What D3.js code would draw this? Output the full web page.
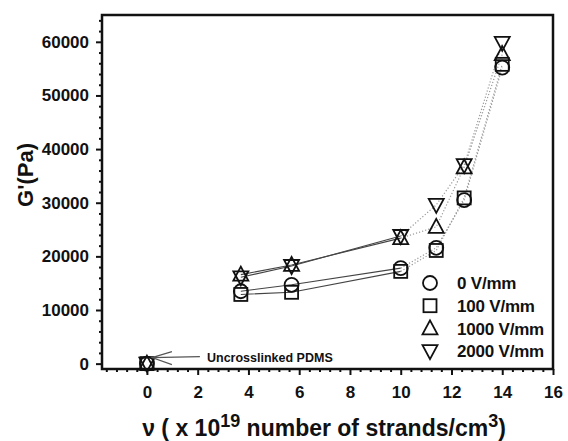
<!DOCTYPE html>
<html><head><meta charset="utf-8">
<script src="https://cdn.jsdelivr.net/npm/d3@7"></script>
<style>body{margin:0;background:#fff}svg text{font-family:"Liberation Sans",Arial,sans-serif;font-weight:bold;fill:#111}</style>
</head><body><svg id="c" width="568" height="441"></svg>
<script>
const xValues = [0, 3.7, 5.7, 10.0, 11.4, 12.5, 14.0];
const series0 = [0, 13500, 14700, 17800, 21600, 30500, 55200];
const series100 = [0, 12900, 13300, 17200, 21100, 30900, 55800];
const series1000 = [0, 16600, 18400, 23400, 25500, 36600, 57700];
const series2000 = [0, 16100, 18200, 23800, 29600, 37000, 59800];
const seriesNames = ["0 V/mm", "100 V/mm", "1000 V/mm", "2000 V/mm"];
const seriesShapes = ["circle", "square", "up", "down"];
const xTicks = [0, 2, 4, 6, 8, 10, 12, 14, 16];
const yTicks = [0, 10000, 20000, 30000, 40000, 50000, 60000];
const annotation = "Uncrosslinked PDMS";

const allSeries = [series0, series100, series1000, series2000];
const svg = d3.select("#c");
const L = 102, R = 553, T = 15, B = 369;
const x = d3.scaleLinear().domain([-1.77, 16]).range([L, R]);
const y = d3.scaleLinear().domain([-1000, 65000]).range([B, T]);

// minor ticks
const xMinor = d3.range(-1.6, 16.01, 0.4).filter(v => Math.abs(v / 2 - Math.round(v / 2)) > 0.01);
const yMinor = d3.range(0, 64001, 2000).filter(v => v % 10000 !== 0);
const gx = svg.append("g").attr("transform", `translate(0,${B})`);
gx.call(d3.axisBottom(x).tickValues(xTicks).tickSize(6).tickSizeOuter(0).tickPadding(11).tickFormat(d3.format("d")));
const gxm = svg.append("g").attr("transform", `translate(0,${B})`);
gxm.call(d3.axisBottom(x).tickValues(xMinor).tickSize(3).tickSizeOuter(0).tickFormat(""));
const gy = svg.append("g").attr("transform", `translate(${L},0)`);
gy.call(d3.axisLeft(y).tickValues(yTicks).tickSize(6).tickSizeOuter(0).tickPadding(7).tickFormat(d3.format("d")));
const gym = svg.append("g").attr("transform", `translate(${L},0)`);
gym.call(d3.axisLeft(y).tickValues(yMinor).tickSize(3).tickSizeOuter(0).tickFormat(""));
[gx, gxm, gy, gym].forEach(g => {
  g.select(".domain").remove();
  g.selectAll("line").attr("stroke", "#111").attr("stroke-width", 2);
  g.selectAll("text").style("font-size", "17px").attr("fill", "#111");
});
svg.append("rect").attr("x", L).attr("y", T).attr("width", R - L).attr("height", B - T)
  .attr("fill", "none").attr("stroke", "#111").attr("stroke-width", 2.5);

// lines
const line = d3.line().x(d => x(d[0])).y(d => y(d[1]));
allSeries.forEach(s => {
  const pts = xValues.map((v, i) => [v, s[i]]);
  svg.append("path").attr("d", line(pts.slice(1, 4))).attr("fill", "none")
    .attr("stroke", "#444").attr("stroke-width", 1.1);
  svg.append("path").attr("d", line(pts.slice(3))).attr("fill", "none")
    .attr("stroke", "#999").attr("stroke-width", 1.2).attr("stroke-dasharray", "1.2,2");
});

// markers
function marker(g, shape, cx, cy) {
  const st = {fill: "none", stroke: "#111", "stroke-width": 1.8};
  let el;
  if (shape === "circle") el = g.append("circle").attr("cx", cx).attr("cy", cy).attr("r", 7);
  else if (shape === "square") el = g.append("rect").attr("x", cx - 6.5).attr("y", cy - 6.5).attr("width", 13).attr("height", 13);
  else if (shape === "up") el = g.append("path").attr("d", `M${cx},${cy - 8}L${cx + 7.5},${cy + 6}L${cx - 7.5},${cy + 6}Z`);
  else el = g.append("path").attr("d", `M${cx},${cy + 8}L${cx + 7.5},${cy - 6}L${cx - 7.5},${cy - 6}Z`);
  Object.entries(st).forEach(([k, v]) => el.attr(k, v));
}
const gm = svg.append("g");
allSeries.forEach((s, si) => {
  xValues.forEach((v, i) => marker(gm, seriesShapes[si], x(v), y(s[i])));
});

// legend
const lg = svg.append("g");
seriesNames.forEach((n, i) => {
  const yy = 283 + i * 22.7;
  marker(lg, seriesShapes[i], 430, yy);
  lg.append("text").attr("x", 457).attr("y", yy).attr("dy", "0.36em").style("font-size", "17px")
    .style("letter-spacing", "-0.2px").text(n);
});

// annotation
const ax = x(0) + 5, ay = y(0) - 6;
svg.append("path").attr("d", `M${ax + 48},${ay - 1}L${ax},${ay}M${ax + 20},${ay - 6}L${ax},${ay}L${ax + 20},${ay + 7}`)
  .attr("fill", "none").attr("stroke", "#555").attr("stroke-width", 1.1);
svg.append("text").attr("x", 207).attr("y", ay).attr("dy", "0.35em").style("font-size", "12.5px").text(annotation);

// axis titles
svg.append("text").attr("transform", "translate(33,175) rotate(-90)").attr("text-anchor", "middle")
  .style("font-size", "22px").text("G'(Pa)");
const xt = svg.append("text").attr("x", 324).attr("y", 436).attr("text-anchor", "middle").style("font-size", "23px");
xt.append("tspan").text("ν ( x 10");
xt.append("tspan").attr("dy", -9).style("font-size", "18px").text("19");
xt.append("tspan").attr("dy", 9).text(" number of strands/cm");
xt.append("tspan").attr("dy", -9).style("font-size", "18px").text("3");
xt.append("tspan").attr("dy", 9).text(")");
</script></body></html>
